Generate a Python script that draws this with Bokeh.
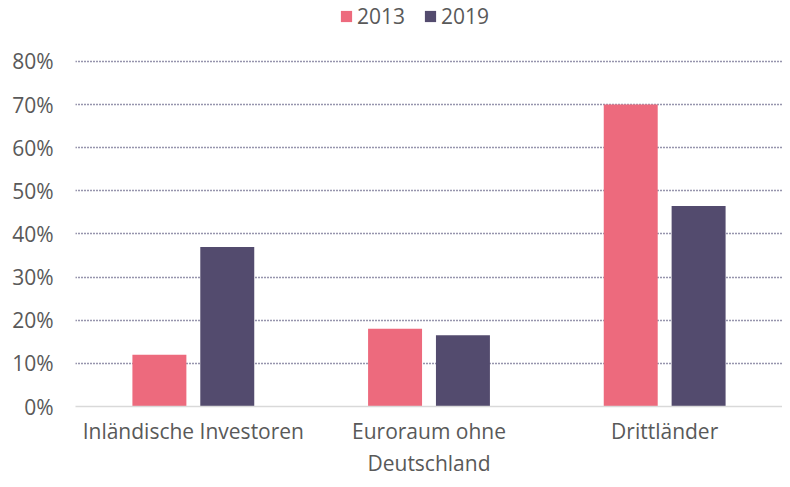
from bokeh.plotting import figure
from bokeh.models import ColumnDataSource, FactorRange, Range1d, Legend, LegendItem, FixedTicker, CustomJSTickFormatter
from bokeh.transform import dodge
from bokeh.embed import file_html
from bokeh.resources import INLINE

categories = ["Inländische Investoren", "Euroraum ohne\nDeutschland", "Drittländer"]
series_2013 = [12, 18, 70]
series_2019 = [37, 16.5, 46.5]
series_names = ["2013", "2019"]
y_ticks = [0, 10, 20, 30, 40, 50, 60, 70, 80]
colors = ["#ED6A7D", "#534B6E"]

src = ColumnDataSource(dict(cat=categories, s2013=series_2013, s2019=series_2019))

p = figure(width=782, height=479, x_range=FactorRange(*categories), y_range=Range1d(0, 94.14),
           output_backend="svg", toolbar_location=None,
           min_border_left=75, min_border_right=0, min_border_top=0, min_border_bottom=62)
p.outline_line_color = None
p.background_fill_color = "white"

r1 = p.vbar(x=dodge("cat", -0.144, range=p.x_range), top="s2013", width=0.229, source=src,
            fill_color=colors[0], line_color=None)
r2 = p.vbar(x=dodge("cat", 0.144, range=p.x_range), top="s2019", width=0.229, source=src,
            fill_color=colors[1], line_color=None)

p.yaxis.ticker = FixedTicker(ticks=y_ticks)
p.yaxis.formatter = CustomJSTickFormatter(code="return tick.toFixed(0) + '%';")
p.yaxis.axis_line_color = None
p.yaxis.major_tick_line_color = None
p.yaxis.minor_tick_line_color = None
p.yaxis.major_label_text_font = "Open Sans"
p.yaxis.major_label_text_font_size = "21px"
p.yaxis.major_label_text_color = "#595959"
p.yaxis.major_label_standoff = 16

p.xaxis.axis_line_color = "#D9D9D9"
p.xaxis.axis_line_width = 1.5
p.xaxis.major_tick_line_color = None
p.xaxis.minor_tick_line_color = None
p.xaxis.major_label_text_font = "Open Sans"
p.xaxis.major_label_text_font_size = "21px"
p.xaxis.major_label_text_color = "#595959"
p.xaxis.major_label_text_line_height = 1.15
p.xaxis.major_label_standoff = 4

p.xgrid.grid_line_color = None
p.ygrid.grid_line_color = "#2E2A5A"
p.ygrid.grid_line_dash = "1 2"
p.ygrid.grid_line_width = 1.5

legend = Legend(items=[LegendItem(label=series_names[0], renderers=[r1]),
                       LegendItem(label=series_names[1], renderers=[r2])],
                orientation="horizontal", location=(264, 376),
                label_text_font="Open Sans", label_text_font_size="21px",
                label_text_color="#595959", glyph_width=14, glyph_height=14,
                label_height=22, spacing=18, label_standoff=4, border_line_color=None,
                background_fill_alpha=0, padding=0, margin=0)
p.add_layout(legend, "center")

open("out.html", "w").write(file_html(p, INLINE))
